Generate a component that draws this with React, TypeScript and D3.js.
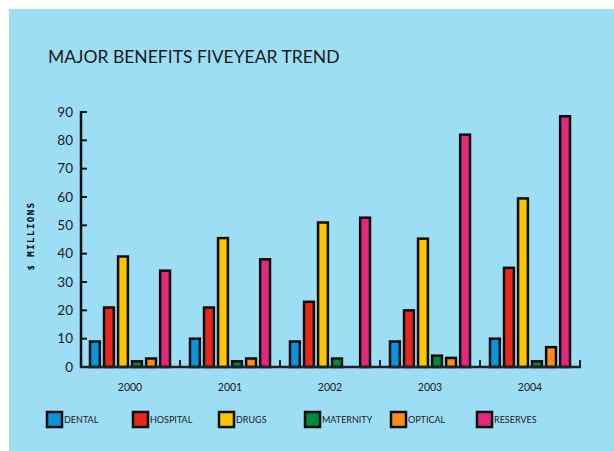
import React from "react";
import * as d3 from "d3";

const years = ["2000", "2001", "2002", "2003", "2004"];
const seriesNames = ["DENTAL", "HOSPITAL", "DRUGS", "MATERNITY", "OPTICAL", "RESERVES"];
const seriesColors = ["#0A95DB", "#E8281D", "#FFC600", "#00883B", "#FF8A1C", "#E2297C"];
const dental = [9, 10, 9, 9, 10];
const hospital = [21, 21, 23, 20, 35];
const drugs = [39, 45.5, 51, 45.3, 59.5];
const maternity = [2, 2, 3, 4, 2];
const optical = [3, 3, 0, 3.2, 7];
const reserves = [34, 38, 52.7, 82, 88.5];
const yTicks = [0, 10, 20, 30, 40, 50, 60, 70, 80, 90];
const title = "MAJOR BENEFITS FIVEYEAR TREND";
const yLabel = "$ MILLIONS";

const seriesValues = [dental, hospital, drugs, maternity, optical, reserves];

export default function App() {
  const W = 614, H = 451;
  const x0 = 80, x1 = 580, yBase = 367, yTop = 112;
  const font = "Lato, 'DejaVu Sans', sans-serif";

  const xGroup = d3.scaleBand().domain(years).range([x0, x1]).padding(0);
  const xInner = d3.scaleBand().domain(seriesNames).range([10, 90]).paddingInner(0.3).paddingOuter(0);
  const y = d3.scaleLinear().domain([0, 90]).range([yBase, yTop]);

  const legendX = d3.scalePoint().domain(seriesNames).range([47, 477]);

  return (
    <svg width={W} height={H} style={{ position: "absolute", left: 0, top: 0 }}>
      <rect x={0} y={0} width={W} height={H} fill="#ffffff" />
      <rect x={9} y={9} width={W - 9} height={H - 9} fill="#9EDEF5" />
      <text x={48} y={63} fontFamily={font} fontSize={17.5} fill="#1a1a1a">{title}</text>

      {/* y label */}
      <text
        transform={`translate(34, ${236}) rotate(-90)`}
        textAnchor="middle"
        fontFamily="'DejaVu Sans Mono', monospace"
        fontWeight="bold"
        fontSize={9}
        letterSpacing={1.5}
        fill="#000"
      >
        {yLabel}
      </text>

      {/* bars */}
      {years.map((yr, gi) => (
        <g key={yr} transform={`translate(${xGroup(yr)},0)`}>
          {seriesNames.map((s, si) => {
            const v = seriesValues[si][gi];
            if (!v) return null;
            return (
              <rect
                key={s}
                x={xInner(s)}
                y={y(v)}
                width={xInner.bandwidth()}
                height={yBase - y(v)}
                fill={seriesColors[si]}
                stroke="#0d0d0d"
                strokeWidth={2.5}
              />
            );
          })}
        </g>
      ))}

      {/* y axis */}
      <line x1={x0 + 1} x2={x0 + 1} y1={yBase + 1} y2={yTop - 1} stroke="#111" strokeWidth={2.5} />
      {yTicks.map((t) => (
        <g key={t}>
          <line x1={x0} x2={x0 + 7} y1={y(t)} y2={y(t)} stroke="#111" strokeWidth={2} />
          <text x={73} y={y(t) + 4.5} textAnchor="end" fontFamily={font} fontSize={13.5} fill="#1a1a1a">{t}</text>
        </g>
      ))}

      {/* x axis */}
      <line x1={x0} x2={x1 + 1} y1={yBase} y2={yBase} stroke="#222" strokeWidth={2.5} />
      {years.map((yr) => (
        <line key={"t" + yr} x1={(xGroup(yr) as number) + xGroup.bandwidth()} x2={(xGroup(yr) as number) + xGroup.bandwidth()} y1={yBase} y2={yBase - 7} stroke="#222" strokeWidth={2} />
      ))}
      {years.map((yr) => (
        <text key={"l" + yr} x={(xGroup(yr) as number) + xGroup.bandwidth() / 2} y={391} textAnchor="middle" fontFamily={font} fontSize={10.5} fill="#1a1a1a">{yr}</text>
      ))}

      {/* legend */}
      {seriesNames.map((s, i) => {
        const lx = legendX(s) as number;
        return (
          <g key={"lg" + s}>
            <rect x={lx} y={412} width={15} height={15} fill={seriesColors[i]} stroke="#0d0d0d" strokeWidth={2.5} />
            <text x={lx + 17} y={423} fontFamily={font} fontSize={9} fill="#1a1a1a">{s}</text>
          </g>
        );
      })}
    </svg>
  );
}
